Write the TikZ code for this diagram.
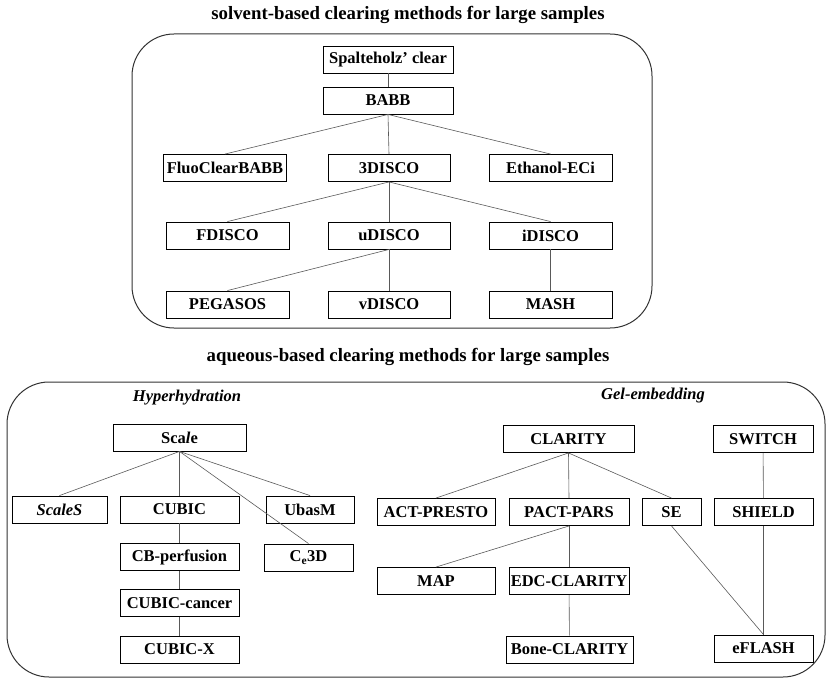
\documentclass[tikz,border=0pt]{standalone}
\usepackage{fontspec}
\setmainfont{Liberation Serif}

\tikzset{
    method/.style={draw, line width=0.9pt, minimum height=27pt, inner sep=0pt,
        font=\bfseries\fontsize{16.5}{19}\selectfont},
    link/.style={draw=black!65, line width=0.6pt},
    group/.style={draw=black!80, line width=1pt, rounded corners=42pt},
    heading/.style={font=\bfseries\fontsize{18.8}{22}\selectfont},
    branch/.style={font=\bfseries\itshape\fontsize{16.5}{19}\selectfont}
}

\begin{document}
\begin{tikzpicture}[x=1pt,y=-1pt]
    \useasboundingbox (0,0) rectangle (826,679);

    % Solvent-based methods
    \node[heading] (solvtitle) at (408,15) {solvent-based clearing methods for large samples};
    \draw[group] (132,34) rectangle (652,328);

    \node[method, minimum width=130pt] (spal) at (388,59.5) {Spalteholz' clear};
    \node[method, minimum width=130pt] (babb) at (388,100.5) {BABB};

    \node[method, minimum width=123pt] (fluo) at (225,168) {FluoClearBABB};
    \node[method, minimum width=122pt] (disco) at (389,168) {3DISCO};
    \node[method, minimum width=123pt] (eci) at (550.5,168) {Ethanol-ECi};

    \node[method, minimum width=123pt] (fdisco) at (227.5,235.5) {FDISCO};
    \node[method, minimum width=122pt] (udisco) at (389,235.5) {uDISCO};
    \node[method, minimum width=123pt] (idisco) at (550.5,235.5) {iDISCO};

    \node[method, minimum width=123pt] (pegasos) at (227.5,304.5) {PEGASOS};
    \node[method, minimum width=122pt] (vdisco) at (389,304.5) {vDISCO};
    \node[method, minimum width=123pt] (mash) at (550.5,304.5) {MASH};

    \draw[link] (spal) -- (babb);
    \draw[link] (babb.south) -- (fluo.north);
    \draw[link] (babb.south) -- (disco.north);
    \draw[link] (babb.south) -- (eci.north);
    \draw[link] (disco.south) -- (fdisco.north);
    \draw[link] (disco.south) -- (udisco.north);
    \draw[link] (disco.south) -- (idisco.north);
    \draw[link] (udisco.south) -- (pegasos.north);
    \draw[link] (udisco.south) -- (vdisco.north);
    \draw[link] (idisco.south) -- (mash.north);

    % Aqueous-based methods
    \node[heading] (aqtitle) at (408,357) {aqueous-based clearing methods for large samples};
    \draw[group] (7,382) rectangle (825,677);

    % Hyperhydration branch
    \node[branch] (hyper) at (187,398) {Hyperhydration};
    \node[method, minimum width=133pt] (scale) at (179.5,437.5) {Sca\textit{l}e};

    \node[method, minimum width=95pt] (scales) at (59.5,509.5) {\textit{ScaleS}};
    \node[method, minimum width=119pt] (cubic) at (179.5,509.5) {CUBIC};
    \node[method, minimum width=88pt] (ubasm) at (310,509.5) {UbasM};

    \node[method, minimum width=119pt] (cbperf) at (179.5,557) {CB-perfusion};
    \node[method, minimum width=89pt] (ce3d) at (308.5,557.5) {C\textsubscript{e}3D};
    \node[method, minimum width=119pt] (cancer) at (179.5,603) {CUBIC-cancer};
    \node[method, minimum width=119pt] (cubicx) at (179.5,649.5) {CUBIC-X};

    \draw[link] (scale.south) -- (scales.north);
    \draw[link] (scale.south) -- (cubic.north);
    \draw[link] (scale.south) -- (ubasm.north);
    \draw[link] (scale.south) -- (ce3d.north);
    \draw[link] (cubic) -- (cbperf);
    \draw[link] (cbperf) -- (cancer);
    \draw[link] (cancer) -- (cubicx);

    % Gel-embedding branch
    \node[branch] (gel) at (653,396) {Gel-embedding};
    \node[method, minimum width=131pt] (clarity) at (568.5,439) {CLARITY};
    \node[method, minimum width=100pt] (switch) at (763,439) {SWITCH};

    \node[method, minimum width=118pt] (presto) at (436,512) {ACT-PRESTO};
    \node[method, minimum width=120pt] (pact) at (569,512) {PACT-PARS};
    \node[method, minimum width=59pt] (se) at (671.5,512) {SE};
    \node[method, minimum width=99pt] (shield) at (763.5,512) {SHIELD};

    \node[method, minimum width=118pt] (map) at (436,581) {MAP};
    \node[method, minimum width=120pt] (edc) at (569,581) {EDC-CLARITY};

    \node[method, minimum width=127pt] (bone) at (569.5,649.5) {Bone-CLARITY};
    \node[method, minimum width=99pt] (eflash) at (763.5,648.5) {eFLASH};

    \draw[link] (clarity.south) -- (presto.north);
    \draw[link] (clarity.south) -- (pact.north);
    \draw[link] (clarity.south) -- (se.north);
    \draw[link] (pact.south) -- (map.north);
    \draw[link] (pact) -- (edc);
    \draw[link] (edc) -- (bone);
    \draw[link] (switch) -- (shield);
    \draw[link] (shield) -- (eflash);
    \draw[link] (se.south) -- (eflash.north);
\end{tikzpicture}
\end{document}
